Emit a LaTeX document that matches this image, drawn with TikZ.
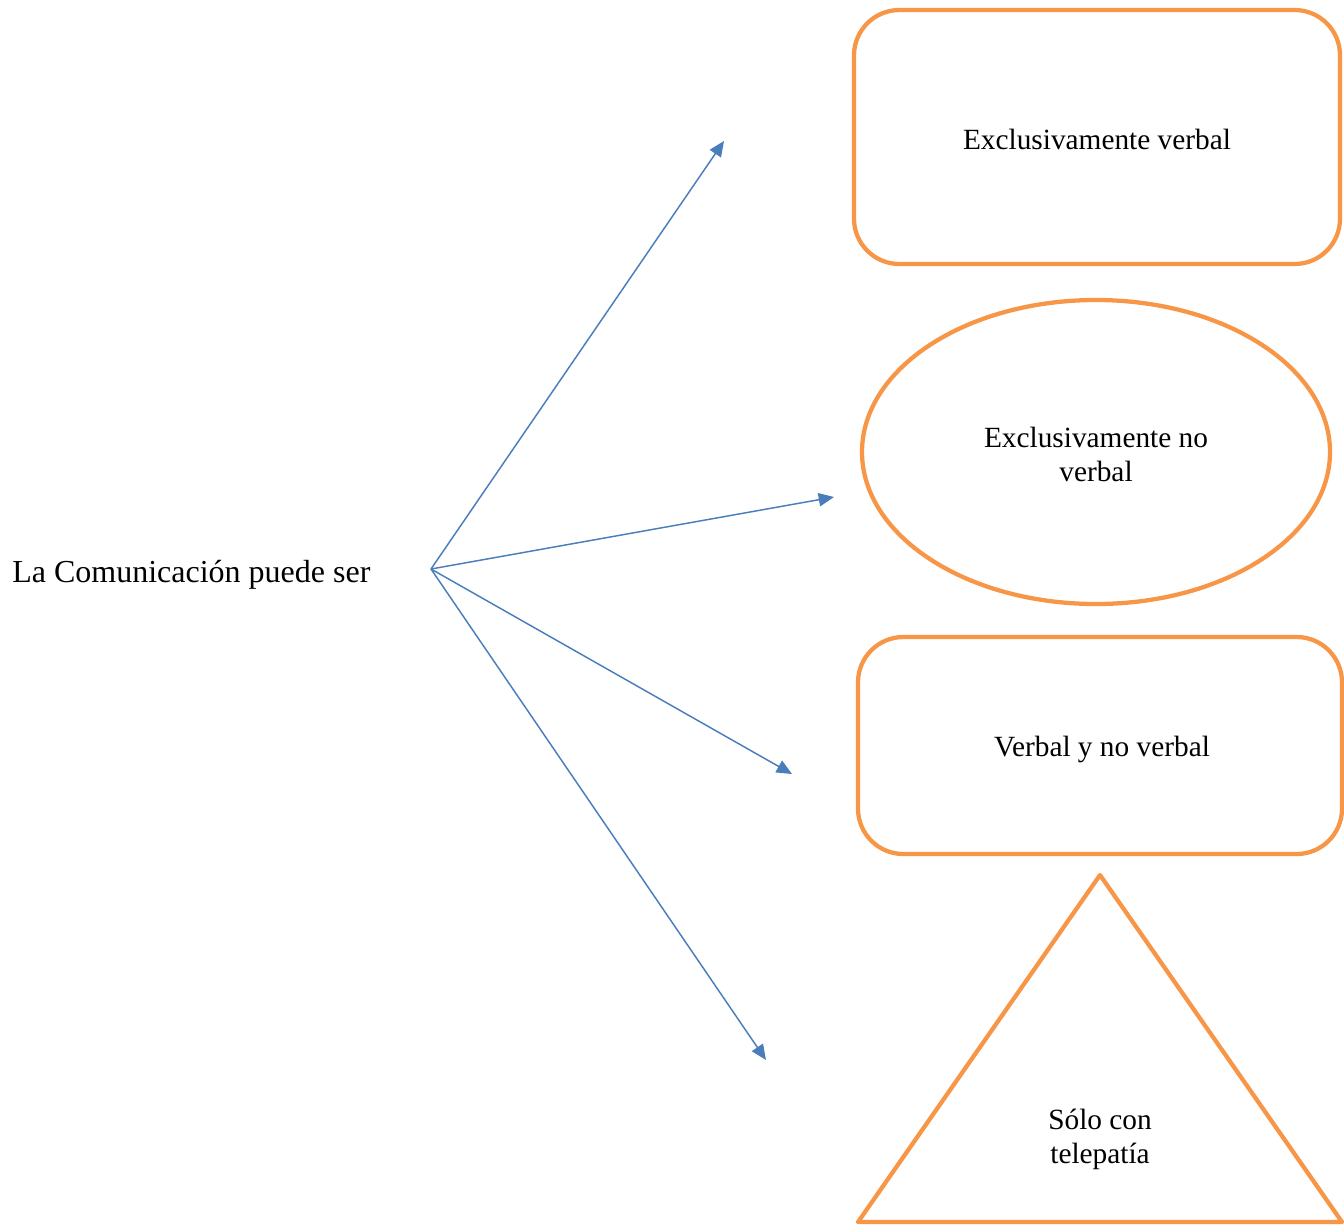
\documentclass[tikz,border=0pt]{standalone}
\usepackage{fontspec}
\setmainfont{Liberation Serif}
\usetikzlibrary{shapes.geometric,arrows.meta}
\definecolor{boxorange}{HTML}{F79646}
\definecolor{arrowblue}{HTML}{4A7EBB}
\begin{document}
\begin{tikzpicture}[x=0.75pt,y=-0.75pt,
  every node/.style={font=\fontsize{22}{25.5}\selectfont, text=black},
  outline/.style={draw=boxorange, line width=3.2pt, line join=round},
  roundbox/.style={outline, rectangle, rounded corners=34pt, inner sep=0pt},
  ovalbox/.style={outline, ellipse, inner sep=0pt},
  link/.style={draw=arrowblue, line width=1.1pt, -{Triangle[length=11.5pt,width=10pt]}},
  label/.style={align=center, inner sep=0pt}]
\useasboundingbox (0,0) rectangle (1344,1225);

% source text and fan-out point
\node[anchor=west, inner sep=0pt, font=\fontsize{24}{28}\selectfont] (title) at (12,575) {La Comunicación puede ser};
\coordinate (hub) at (431,569);

% option shapes
\node[roundbox, minimum width=364.5pt, minimum height=190.5pt] (verbal) at (1097,137) {};
\node[label] at (1097,139) {Exclusivamente verbal};

\node[ovalbox, minimum width=351pt, minimum height=228pt] (noverbal) at (1096,452) {};
\node[label] at (1096,454) {Exclusivamente no\\verbal};

\node[roundbox, minimum width=363pt, minimum height=162.75pt] (ambas) at (1100,745.5) {};
\node[label] at (1102,749) {Verbal y no verbal};

\coordinate (tritop) at (1100,875);
\coordinate (trileft) at (858,1222);
\coordinate (triright) at (1342,1222);
\draw[outline] (tritop) -- (triright) -- (trileft) -- cycle;
\node[label] (telepatia) at (1100,1139) {Sólo con\\telepatía};

% arrow ends
\coordinate (e1) at (724,141);
\coordinate (e2) at (834,497);
\coordinate (e3) at (792,774);
\coordinate (e4) at (766,1060);

\draw[link] (hub) -- (e1);
\draw[link] (hub) -- (e2);
\draw[link] (hub) -- (e3);
\draw[link] (hub) -- (e4);
\end{tikzpicture}
\end{document}
